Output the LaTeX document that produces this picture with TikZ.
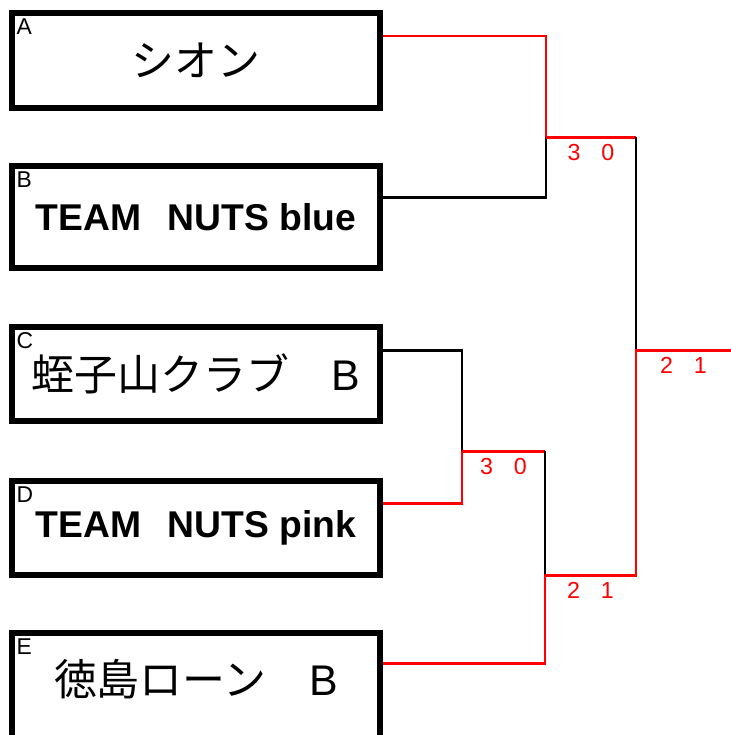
\documentclass[tikz,border=0pt]{standalone}
\usepackage{fontspec}
\setmainfont{Liberation Sans}
\newfontfamily\jpfont{Noto Sans CJK JP}
\usetikzlibrary{positioning, calc}
\tikzset{
    team/.style={
        rectangle,
        draw=black,
        line width=1.7pt,
        minimum width=3.68cm,
        minimum height=0.95cm,
        inner sep=0pt,
        fill=white,
        font=\fontsize{12.2}{14}\jpfont
    },
    teamlat/.style={
        team,
        font=\fontsize{10.6}{13}\selectfont\bfseries
    },
    tag/.style={
        inner sep=0pt,
        anchor=north west,
        font=\fontsize{6.5}{7}\selectfont
    },
    wire/.style={
        draw=black,
        line width=0.85pt
    },
    win/.style={
        draw=red,
        line width=0.85pt
    },
    score/.style={
        below,
        inner sep=1.6pt,
        text=red,
        font=\fontsize{6.6}{7}\selectfont
    }
}

\begin{document}
\begin{tikzpicture}[x=0.01cm, y=-0.01cm]
\useasboundingbox (0,0) rectangle (731,735);

\node[team] (A) at (196,60.5) {シオン};
\node[teamlat, below=0.52cm of A, minimum height=1.02cm] (B) {TEAM\hspace{0.72em}NUTS blue};
\node[team, below=0.53cm of B, minimum height=0.94cm] (C) {蛭子山クラブ　{\rmfamily B}};
\node[teamlat, below=0.54cm of C, minimum height=0.94cm] (D) {TEAM\hspace{0.72em}NUTS pink};
\node[team, below=0.52cm of D, minimum height=1.1cm, text depth=0.21cm] (E) {徳島ローン　{\rmfamily B}};

\foreach \t in {A,B,C,D,E}
    \node[tag] at ($(\t.north west)+(7,8)$) {\t};

% junctions
\coordinate (ab) at (546,137);
\coordinate (cd) at (462,451);
\coordinate (cde) at (545,575);
\coordinate (fin) at (636,350);
\coordinate (champ) at (731,350);

\draw[win] ([yshift=0.245cm]A.east) -| (ab);
\draw[wire] ([yshift=0.2cm]B.east) -| (ab);
\draw[win] (ab) -- node[score] {3\hspace{0.9em}0} (ab -| fin);
\draw[wire] (ab -| fin) -- (fin);

\draw[wire] ([yshift=0.24cm]C.east) -| (cd);
\draw[win] ([yshift=0.25cm]D.east) -| (cd);
\draw[win] (cd) -- node[score] {3\hspace{0.9em}0} (cd -| cde);
\draw[wire] (cd -| cde) -- (cde);

\draw[win] ([yshift=-0.33cm]E.north east) -| (cde);
\draw[win] (cde) -- node[score] {2\hspace{0.9em}1} (cde -| fin) -- (fin)
    -- node[score] {2\hspace{0.9em}1} (champ);

\end{tikzpicture}
\end{document}
